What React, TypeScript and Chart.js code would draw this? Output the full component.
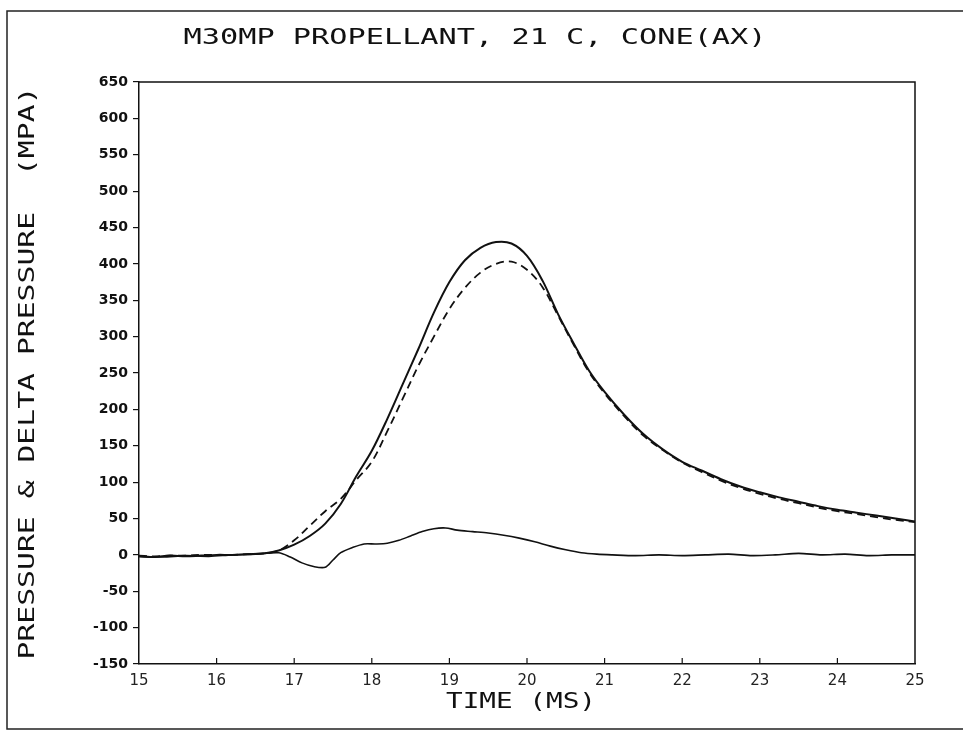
import { useEffect, useRef } from 'react';
import { Chart, registerables } from 'chart.js';
Chart.register(...registerables);

const TITLE = 'M30MP PROPELLANT, 21 C, CONE(AX)';
const Y_TITLE = 'PRESSURE & DELTA PRESSURE  (MPA)';
const X_TITLE = 'TIME (MS)';

const X_MIN = 15;
const X_MAX = 25;
const Y_MIN = -150;
const Y_MAX = 650;

// time grid (ms) for the pressure curves
const timeP = [15.0, 15.2, 15.4, 15.6, 15.8, 16.0, 16.2, 16.4, 16.6, 16.8,
  17.0, 17.2, 17.4, 17.6, 17.8, 18.0, 18.2, 18.4, 18.6, 18.8,
  19.0, 19.2, 19.4, 19.6, 19.8, 20.0, 20.2, 20.4, 20.6, 20.8,
  21.0, 21.25, 21.5, 21.75, 22.0, 22.25, 22.5, 22.75, 23.0, 23.25,
  23.5, 23.75, 24.0, 24.25, 24.5, 24.75, 25.0];

// solid pressure curve (MPa)
const pressureSolid = [-2, -3, -1, -2, -1, 0, 0, 1, 2, 6,
  14, 26, 43, 70, 108, 143, 187, 235, 283, 333,
  375, 405, 422, 430, 428, 411, 377, 331, 291, 253,
  224, 193, 166, 145, 128, 116, 104, 94, 86, 79,
  73, 67, 62, 58, 54, 50, 46];

// dashed pressure curve (MPa)
const pressureDashed = [-1, -2, -1, -1, 0, 0, 0, 1, 2, 6,
  20, 40, 60, 77, 103, 128, 170, 215, 260, 300,
  338, 367, 388, 400, 403, 392, 368, 329, 289, 251,
  222, 191, 164, 144, 127, 114, 102, 92, 84, 77,
  71, 65, 60, 56, 52, 48, 45];

// delta pressure curve
const timeD = [15.0, 15.3, 15.6, 15.9, 16.2, 16.5, 16.8,
  16.95, 17.1, 17.25, 17.4, 17.5, 17.6, 17.75, 17.9,
  18.05, 18.2, 18.35, 18.5, 18.65, 18.8, 18.95,
  19.1, 19.3, 19.5, 19.7, 19.9,
  20.1, 20.3, 20.5, 20.7, 20.9,
  21.1, 21.4, 21.7, 22.0, 22.3, 22.6, 22.9,
  23.2, 23.5, 23.8, 24.1, 24.4, 24.7, 25.0];
const deltaV = [-2, -3, -1, -2, 0, 1, 3,
  -3, -11, -16, -17, -7, 3, 10, 15,
  15, 16, 20, 26, 32, 36, 37,
  34, 32, 30, 27, 23,
  18, 12, 7, 3, 1,
  0, -1, 0, -1, 0, 1, -1,
  0, 2, 0, 1, -1, 0, 0];

function drawFitted(ctx: CanvasRenderingContext2D, text: string, cx: number, cy: number,
  target: number, font: string, angle = 0) {
  ctx.save();
  ctx.translate(cx, cy);
  ctx.rotate(angle);
  ctx.font = font;
  ctx.fillStyle = '#111';
  ctx.textAlign = 'center';
  ctx.textBaseline = 'middle';
  const w = ctx.measureText(text).width;
  ctx.scale(target / w, 1);
  ctx.fillText(text, 0, 0);
  ctx.restore();
}

const decor = {
  id: 'decor',
  afterDraw(chart: any) {
    const ctx: CanvasRenderingContext2D = chart.ctx;
    const { left, right, top, bottom } = chart.chartArea;
    const xs = chart.scales.x;
    ctx.save();
    ctx.strokeStyle = '#111';
    ctx.lineWidth = 1.5;
    // top & right frame of plot
    ctx.beginPath();
    ctx.moveTo(left, top);
    ctx.lineTo(right, top);
    ctx.lineTo(right, bottom);
    ctx.stroke();
    // inward x ticks
    ctx.lineWidth = 1.2;
    ctx.beginPath();
    for (let v = X_MIN + 1; v < X_MAX; v++) {
      const px = xs.getPixelForValue(v);
      ctx.moveTo(px, bottom);
      ctx.lineTo(px, bottom - 6);
    }
    ctx.stroke();
    // page frame
    ctx.lineWidth = 1.5;
    ctx.strokeStyle = '#222';
    ctx.beginPath();
    ctx.moveTo(963, 11);
    ctx.lineTo(7, 11);
    ctx.lineTo(7, 729);
    ctx.lineTo(963, 729);
    ctx.stroke();
    ctx.restore();

    drawFitted(ctx, TITLE, 475, 38, 583, '22px "DejaVu Sans Mono"');
    drawFitted(ctx, Y_TITLE, 28, 373, 573, '22px "DejaVu Sans Mono"', -Math.PI / 2);
    drawFitted(ctx, X_TITLE, 521, 702, 150, '22px "DejaVu Sans Mono"');
  },
};

export default function App() {
  const ref = useRef<HTMLCanvasElement | null>(null);
  useEffect(() => {
    document.body.style.margin = '0';
    const canvas = ref.current;
    if (!canvas) return;
    const chart = new Chart(canvas, {
      type: 'line',
      data: {
        datasets: [
          {
            label: 'Pressure',
            data: timeP.map((t, i) => ({ x: t, y: pressureSolid[i] })),
            borderColor: '#111',
            borderWidth: 2,
            pointRadius: 0,
            tension: 0.35,
            fill: false,
          },
          {
            label: 'Pressure (dashed)',
            data: timeP.map((t, i) => ({ x: t, y: pressureDashed[i] })),
            borderColor: '#111',
            borderWidth: 1.8,
            borderDash: [8, 5],
            pointRadius: 0,
            tension: 0.35,
            fill: false,
          },
          {
            label: 'Delta pressure',
            data: timeD.map((t, i) => ({ x: t, y: deltaV[i] })),
            borderColor: '#111',
            borderWidth: 1.6,
            pointRadius: 0,
            tension: 0.3,
            fill: false,
          },
        ],
      },
      options: {
        responsive: false,
        animation: false,
        layout: { padding: { left: 79, right: 48, top: 82, bottom: 0 } },
        plugins: {
          legend: { display: false },
          tooltip: { enabled: false },
          title: { display: false },
        },
        scales: {
          x: {
            type: 'linear',
            min: X_MIN,
            max: X_MAX,
            ticks: {
              stepSize: 1,
              color: '#222',
              font: { family: 'DejaVu Sans', size: 15 },
              padding: 8,
              maxRotation: 0,
            },
            grid: { display: false, drawTicks: false },
            border: { display: true, color: '#111', width: 1.5 },
            afterFit: (s: any) => { s.height = 67; },
          },
          y: {
            type: 'linear',
            min: Y_MIN,
            max: Y_MAX,
            ticks: {
              stepSize: 50,
              color: '#111',
              font: { family: 'DejaVu Sans', size: 14, weight: 'bold' },
              padding: 5,
            },
            grid: { display: true, drawOnChartArea: false, drawTicks: true, tickLength: 6, color: '#111', lineWidth: 1.2 },
            border: { display: true, color: '#111', width: 1.5 },
            afterFit: (s: any) => { s.width = 60; },
          },
        },
      } as any,
      plugins: [decor],
    });
    return () => chart.destroy();
  }, []);
  return <canvas ref={ref} width={963} height={731} style={{ display: 'block' }} />;
}
